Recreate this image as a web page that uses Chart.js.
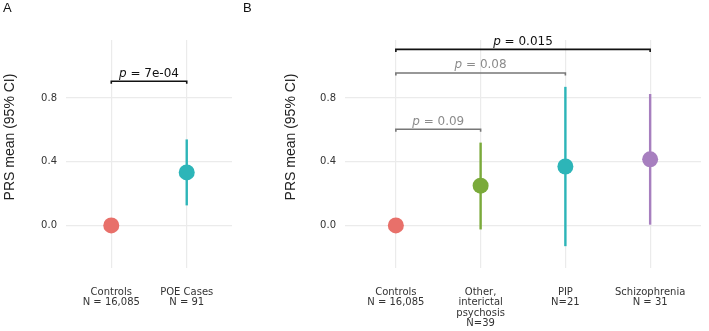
<!DOCTYPE html>
<html>
<head>
<meta charset="utf-8">
<script src="https://cdn.jsdelivr.net/npm/chart.js@4.4.1/dist/chart.umd.min.js"></script>
<style>
  html, body { margin: 0; padding: 0; background: #fff; }
  body { width: 709px; height: 331px; position: relative; overflow: hidden; }
  .panel { position: absolute; top: 0; }
  .lbl { position: absolute; top: 0px; font-family: "Liberation Sans", Arial, sans-serif; font-size: 13px; color: #111; }
</style>
</head>
<body>
<div class="panel" style="left:0;width:240px;height:331px"><canvas id="cA" width="240" height="331"></canvas></div>
<div class="panel" style="left:240px;width:469px;height:331px"><canvas id="cB" width="469" height="331"></canvas></div>
<div class="lbl" style="left:3px">A</div>
<div class="lbl" style="left:243px">B</div>
<script>
// ---- Data ----
const catsA = [["Controls", "N = 16,085"], ["POE Cases", "N = 91"]];
const meanA = [0.0, 0.333];
const lowA  = [-0.008, 0.126];
const highA = [0.008, 0.54];
const colorsA = ["#E8706A", "#2DB5B8"];
const bracketsA = [
  { from: 0, to: 1, y: 0.905, p: "7e-04", color: "#111111", textColor: "#111111" }
];

const catsB = [["Controls", "N = 16,085"], ["Other,", "interictal", "psychosis", "N=39"], ["PIP", "N=21"], ["Schizophrenia", "N = 31"]];
const meanB = [0.0, 0.25, 0.37, 0.415];
const lowB  = [-0.008, -0.025, -0.13, 0.005];
const highB = [0.008, 0.52, 0.87, 0.825];
const colorsB = ["#E8706A", "#7AAA3A", "#2DB5B8", "#A77FBF"];
const bracketsB = [
  { from: 0, to: 3, y: 1.105, p: "0.015", color: "#111111", textColor: "#111111" },
  { from: 0, to: 2, y: 0.957, p: "0.08", color: "#777777", textColor: "#8c8c8c" },
  { from: 0, to: 1, y: 0.604, p: "0.09", color: "#777777", textColor: "#8c8c8c" }
];

const yTicks = [0.0, 0.4, 0.8];
const yMin = -0.267, yMax = 1.164;
const yTitle = "PRS mean (95% CI)";

// ---- Bracket + title plugin ----
const bracketPlugin = {
  id: 'brackets',
  afterDatasetsDraw(chart, args, opts) {
    const ctx = chart.ctx;
    const xs = chart.scales.x, ys = chart.scales.y;
    (opts.list || []).forEach(b => {
      const x1 = xs.getPixelForValue(b.from + 1);
      const x2 = xs.getPixelForValue(b.to + 1);
      const y = ys.getPixelForValue(b.y);
      ctx.save();
      ctx.strokeStyle = b.color;
      ctx.lineWidth = 1.6;
      ctx.beginPath();
      ctx.moveTo(x1, y + 2.5); ctx.lineTo(x1, y); ctx.lineTo(x2, y); ctx.lineTo(x2, y + 2.5);
      ctx.stroke();
      const fam = '"DejaVu Sans", sans-serif';
      const italic = 'italic 12px ' + fam;
      const normal = '12px ' + fam;
      ctx.font = italic; const wP = ctx.measureText('p').width;
      ctx.font = normal; const rest = ' = ' + b.p; const wR = ctx.measureText(rest).width;
      const cx = (x1 + x2) / 2;
      const sx = cx - (wP + wR) / 2;
      const ty = y - 4.5;
      ctx.fillStyle = b.textColor || b.color;
      ctx.textBaseline = 'alphabetic';
      ctx.textAlign = 'left';
      ctx.font = italic; ctx.fillText('p', sx, ty);
      ctx.font = normal; ctx.fillText(rest, sx + wP, ty);
      ctx.restore();
    });
    // y-axis title
    const t = opts.title;
    if (t) {
      ctx.save();
      ctx.translate(t.x, t.y);
      ctx.rotate(-Math.PI / 2);
      ctx.font = '14px "Liberation Sans", Arial, sans-serif';
      ctx.fillStyle = '#222222';
      ctx.textAlign = 'center';
      ctx.textBaseline = 'middle';
      ctx.fillText(yTitle, 0, 0);
      ctx.restore();
    }
  }
};

function makeChart(id, cats, mean, low, high, colors, brackets, yAxisWidth, padRight, titleX) {
  const n = cats.length;
  const datasets = [];
  datasets.push({
    type: 'scatter',
    data: mean.map((m, i) => ({ x: i + 1, y: m })),
    pointRadius: 8, pointHoverRadius: 8,
    pointBackgroundColor: colors, pointBorderColor: colors, pointBorderWidth: 0,
    order: 0
  });
  for (let i = 0; i < n; i++) {
    datasets.push({
      type: 'line',
      data: [{ x: i + 1, y: low[i] }, { x: i + 1, y: high[i] }],
      borderColor: colors[i], borderWidth: 2.4, pointRadius: 0, showLine: true,
      order: 1
    });
  }
  return new Chart(document.getElementById(id), {
    type: 'scatter',
    data: { datasets },
    plugins: [bracketPlugin],
    options: {
      responsive: false, animation: false, devicePixelRatio: 1,
      layout: { padding: { left: 0, right: padRight, top: 40, bottom: 0 } },
      plugins: { legend: { display: false }, tooltip: { enabled: false },
        brackets: { list: brackets, title: { x: titleX, y: 137 } } },
      scales: {
        x: {
          type: 'linear', min: 0.4, max: n + 0.6,
          afterBuildTicks: s => { s.ticks = cats.map((c, i) => ({ value: i + 1 })); },
          afterFit: s => { s.height = 63; },
          grid: { color: '#ebebeb', lineWidth: 1.2, drawTicks: false },
          border: { display: false },
          ticks: {
            autoSkip: false, maxRotation: 0, padding: 19,
            color: '#333333', font: { family: '"DejaVu Sans", sans-serif', size: 10, lineHeight: 1.05 },
            callback: (v) => cats[Math.round(v) - 1]
          }
        },
        y: {
          min: yMin, max: yMax,
          afterBuildTicks: s => { s.ticks = yTicks.map(v => ({ value: v })); },
          afterFit: s => { s.width = yAxisWidth; },
          grid: { color: '#ebebeb', lineWidth: 1.2, drawTicks: false },
          border: { display: false },
          ticks: {
            padding: 9, color: '#333333', font: { family: '"DejaVu Sans", sans-serif', size: 10 },
            callback: v => v.toFixed(1)
          }
        }
      }
    }
  });
}

makeChart('cA', catsA, meanA, lowA, highA, colorsA, bracketsA, 66, 5, 10);
makeChart('cB', catsB, meanB, lowB, highB, colorsB, bracketsB, 105, 3.4, 51);
</script>
</body>
</html>
